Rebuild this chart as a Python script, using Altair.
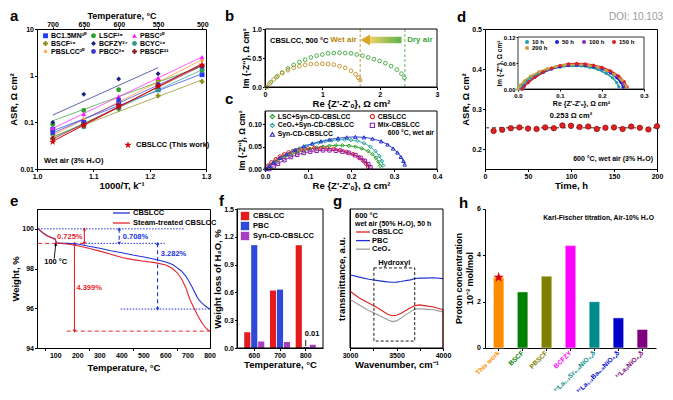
import altair as alt
import pandas as pd

FONT = "Liberation Sans"
STAR = ("M0,-1L0.2245,-0.309L0.9511,-0.309L0.3633,0.118L0.5878,0.809L0,0.382"
        "L-0.5878,0.809L-0.3633,0.118L-0.9511,-0.309L-0.2245,-0.309Z")
RED = "#e3262b"
BLUE = "#2233dd"

# ---------------- data: panel a ----------------
A_INV = [1.028, 1.083, 1.145, 1.215, 1.293]
A_TEMP_LABELS = [700, 650, 600, 550, 500]
A_SERIES = ["BC1.5MN²⁰", "LSCF²⁸", "PBSC²⁰", "BSCF¹⁶", "BCFZY²⁷", "BCYC¹⁶",
            "PBSLCC²⁰", "PBCC²⁶", "PBSCF²³"]
A_COLORS = ["#1f3cff", "#2ca02c", "#ff19ff", "#8c8c1a", "#1a237e", "#2a9d8f",
            "#ff8c1a", "#3a3ad0", "#8b1a1a"]
A_SHAPES = ["square", "circle", "triangle-up", "cross", "diamond", "circle",
            STAR, "circle", "cross"]
A_BC15MN = [0.070, 0.10, 0.25, 0.50, 1.05]
A_LSCF = [0.090, 0.18, 0.50, 0.80, 1.30]
A_PBSC = [0.075, 0.15, 0.36, 0.90, 2.50]
A_BSCF = [0.045, 0.09, 0.19, 0.37, 0.75]
A_BCFZY = [0.10, 0.40, 0.85, 1.10, None]
A_BCYC = [0.055, 0.08, 0.20, 0.50, 1.40]
A_PBSLCC = [0.050, 0.12, 0.28, 0.75, 2.10]
A_PBCC = [0.060, 0.10, 0.30, 0.65, 1.60]
A_PBSCF = [0.045, 0.09, 0.21, 0.60, 1.60]
A_CBSLCC = [0.038, 0.085, 0.23, 0.60, 1.70]
A_DATA = dict(zip(A_SERIES, [A_BC15MN, A_LSCF, A_PBSC, A_BSCF, A_BCFZY, A_BCYC,
                             A_PBSLCC, A_PBCC, A_PBSCF]))

# ---------------- data: panel b ----------------
B_DRY_X = [0.03, 0.10, 0.20, 0.30, 0.40, 0.50, 0.60, 0.70, 0.80, 0.90, 1.00, 1.10, 1.20,
           1.30, 1.40, 1.50, 1.60, 1.70, 1.80, 1.90, 2.00, 2.10, 2.20, 2.30, 2.38, 2.43]
B_DRY_Y = [0.00, 0.08, 0.17, 0.25, 0.32, 0.38, 0.43, 0.47, 0.51, 0.54, 0.56, 0.58, 0.585,
           0.59, 0.585, 0.58, 0.56, 0.54, 0.51, 0.48, 0.45, 0.41, 0.36, 0.30, 0.23, 0.16]
B_WET_X = [0.03, 0.08, 0.15, 0.22, 0.30, 0.40, 0.50, 0.60, 0.70, 0.80, 0.90, 1.00, 1.10,
           1.20, 1.30, 1.40, 1.50, 1.58, 1.63, 1.66]
B_WET_Y = [0.00, 0.06, 0.13, 0.19, 0.24, 0.29, 0.33, 0.36, 0.38, 0.395, 0.40, 0.40, 0.395,
           0.385, 0.36, 0.33, 0.28, 0.22, 0.16, 0.12]

# ---------------- data: panel c ----------------
C_SERIES = ["LSC+Syn-CD-CBSLCC", "CBSLCC", "CeO₂+Syn-CD-CBSLCC", "Mix-CBSLCC", "Syn-CD-CBSLCC"]
C_COLORS = ["#22a022", "#e02020", "#2aa6a0", "#9020b0", "#2030d0"]
C_SHAPES = ["diamond", "circle", "diamond", "square", "triangle-up"]
C_LSC_X = [0.003, 0.01, 0.02, 0.03, 0.045, 0.06, 0.075, 0.09, 0.105, 0.12, 0.135, 0.15,
           0.165, 0.18, 0.195, 0.21, 0.225, 0.24, 0.25, 0.258, 0.264, 0.268]
C_LSC_Y = [0.0, 0.006, 0.013, 0.019, 0.026, 0.032, 0.037, 0.041, 0.045, 0.048, 0.050, 0.052,
           0.053, 0.053, 0.052, 0.050, 0.046, 0.040, 0.033, 0.025, 0.016, 0.007]
C_CEO_X = [0.003, 0.01, 0.02, 0.035, 0.05, 0.065, 0.08, 0.095, 0.11, 0.125, 0.14, 0.155,
           0.17, 0.185, 0.2, 0.215, 0.23, 0.245, 0.257, 0.266, 0.272, 0.275]
C_CEO_Y = [0.0, 0.007, 0.015, 0.024, 0.032, 0.040, 0.046, 0.051, 0.056, 0.059, 0.062, 0.064,
           0.065, 0.066, 0.065, 0.063, 0.058, 0.050, 0.040, 0.029, 0.018, 0.008]
C_SYN_X = [0.003, 0.01, 0.02, 0.035, 0.05, 0.07, 0.09, 0.11, 0.13, 0.15, 0.17, 0.19, 0.21,
           0.23, 0.25, 0.27, 0.285, 0.298, 0.308, 0.316, 0.322, 0.325]
C_SYN_Y = [0.0, 0.007, 0.015, 0.025, 0.033, 0.043, 0.051, 0.057, 0.062, 0.066, 0.069, 0.071,
           0.072, 0.071, 0.068, 0.062, 0.055, 0.046, 0.037, 0.027, 0.018, 0.010]
C_CB_X = [0.002, 0.008, 0.015, 0.025, 0.035, 0.045, 0.055, 0.065, 0.075, 0.085, 0.1, 0.115,
          0.13, 0.145, 0.16, 0.175, 0.19, 0.205, 0.218, 0.228, 0.235, 0.24]
C_CB_Y = [0.0, 0.008, 0.015, 0.022, 0.028, 0.033, 0.037, 0.040, 0.042, 0.044, 0.046, 0.047,
          0.047, 0.046, 0.045, 0.042, 0.038, 0.033, 0.026, 0.019, 0.012, 0.005]
C_MIX_X = [0.01, 0.02, 0.03, 0.045, 0.06, 0.075, 0.09, 0.105, 0.12, 0.135, 0.15, 0.165, 0.18,
           0.195, 0.21, 0.222, 0.232, 0.24, 0.245]
C_MIX_Y = [0.0, 0.006, 0.012, 0.020, 0.027, 0.032, 0.036, 0.039, 0.041, 0.042, 0.042, 0.041,
           0.039, 0.036, 0.031, 0.025, 0.018, 0.011, 0.004]
C_DATA = dict(zip(C_SERIES, [(C_LSC_X, C_LSC_Y), (C_CB_X, C_CB_Y), (C_CEO_X, C_CEO_Y),
                             (C_MIX_X, C_MIX_Y), (C_SYN_X, C_SYN_Y)]))

# ---------------- data: panel d ----------------
D_TIME = [10, 20, 30, 40, 50, 60, 70, 80, 90, 100, 110, 120, 130, 140, 150, 160, 170, 180, 190, 200]
D_ASR = [0.245, 0.248, 0.252, 0.254, 0.251, 0.250, 0.254, 0.252, 0.259, 0.258, 0.255, 0.256,
         0.250, 0.253, 0.254, 0.250, 0.256, 0.253, 0.249, 0.257]
D_MEAN = 0.253
I_SERIES = ["10 h", "50 h", "100 h", "150 h", "200 h"]
I_COLORS = ["#1fa3a0", "#2020d0", "#8030b0", "#e02020", "#c8a040"]
I_10_X = [0.005, 0.01, 0.02, 0.03, 0.05, 0.07, 0.09, 0.11, 0.13, 0.15, 0.17, 0.19, 0.21, 0.225, 0.235, 0.24]
I_10_Y = [0.0, 0.008, 0.018, 0.026, 0.037, 0.045, 0.050, 0.053, 0.054, 0.053, 0.050, 0.045, 0.036, 0.026, 0.015, 0.005]
I_50_X = [0.01, 0.015, 0.025, 0.04, 0.06, 0.08, 0.10, 0.12, 0.14, 0.16, 0.18, 0.20, 0.22, 0.235, 0.245, 0.25]
I_50_Y = [0.0, 0.007, 0.016, 0.027, 0.038, 0.046, 0.051, 0.054, 0.055, 0.054, 0.051, 0.046, 0.037, 0.026, 0.015, 0.004]
I_100_X = [0.01, 0.015, 0.025, 0.04, 0.06, 0.08, 0.10, 0.12, 0.14, 0.16, 0.18, 0.20, 0.22, 0.235, 0.248, 0.255]
I_100_Y = [0.0, 0.007, 0.016, 0.027, 0.039, 0.047, 0.053, 0.056, 0.057, 0.056, 0.053, 0.048, 0.040, 0.030, 0.017, 0.005]
I_150_X = [0.01, 0.015, 0.025, 0.04, 0.06, 0.08, 0.10, 0.12, 0.14, 0.16, 0.18, 0.20, 0.22, 0.24, 0.253, 0.26]
I_150_Y = [0.0, 0.007, 0.016, 0.027, 0.039, 0.048, 0.054, 0.058, 0.059, 0.058, 0.055, 0.050, 0.042, 0.030, 0.017, 0.005]
I_200_X = [0.0, 0.005, 0.015, 0.03, 0.05, 0.07, 0.09, 0.11, 0.13, 0.15, 0.17, 0.19, 0.21, 0.23, 0.248, 0.258]
I_200_Y = [0.0, 0.009, 0.019, 0.030, 0.040, 0.047, 0.052, 0.055, 0.056, 0.056, 0.054, 0.050, 0.043, 0.033, 0.020, 0.006]
I_DATA = dict(zip(I_SERIES, [(I_10_X, I_10_Y), (I_50_X, I_50_Y), (I_100_X, I_100_Y),
                             (I_150_X, I_150_Y), (I_200_X, I_200_Y)]))

# ---------------- data: panel e ----------------
E_SERIES = ["CBSLCC", "Steam-treated CBSLCC"]
E_T = [20, 30, 40, 50, 60, 70, 80, 90, 97, 100, 103, 120, 150, 200, 250, 300, 350, 400, 450,
       500, 550, 600, 630, 650, 670, 690, 700, 710, 720, 730, 740, 750, 760, 770, 780, 790, 800]
E_BLUE = [100.0, 99.92, 99.82, 99.74, 99.67, 99.62, 99.57, 99.53, 99.50, 99.40, 99.30, 99.28,
          99.27, 99.24, 99.12, 99.02, 98.90, 98.80, 98.68, 98.58, 98.47, 98.33, 98.20, 98.05,
          97.88, 97.62, 97.45, 97.25, 97.05, 96.82, 96.60, 96.42, 96.30, 96.20, 96.10, 96.03, 95.96]
E_RED = [100.0, 99.90, 99.80, 99.72, 99.65, 99.60, 99.55, 99.50, 99.47, 99.38, 99.28, 99.26,
         99.24, 99.15, 99.02, 98.88, 98.72, 98.56, 98.45, 98.37, 98.30, 98.18, 98.00, 97.80,
         97.50, 97.05, 96.72, 96.42, 96.18, 95.95, 95.72, 95.52, 95.33, 95.17, 95.02, 94.92, 94.85]
E_XTICKS = [50, 100, 150, 200, 250, 300, 350, 400, 450, 500, 550, 600, 650, 700, 750, 800]
E_XLABELS = [100, 200, 300, 400, 500, 600, 700, 800]
E_HL_X1 = [20, 20, 235, 395, 150]
E_HL_X2 = [680, 235, 595, 800, 800]
E_HL_Y = [100.0, 99.27, 99.27, 95.96, 94.85]
E_HL_COLOR = [BLUE, RED, BLUE, BLUE, RED]
E_HL_STYLE = ["dot", "dash", "dot", "dot", "dash"]
E_AR_X = [185, 230, 388, 562]
E_AR_TOP = [99.27, 100.0, 100.0, 99.27]
E_AR_BOT = [94.85, 99.27, 99.27, 95.96]
E_AR_COLOR = [RED, RED, BLUE, BLUE]
E_AR_STYLE = ["solid", "solid", "dash", "dash"]
E_TXT = ["0.725%", "0.708%", "3.282%", "4.399%", "100 °C"]
E_TXT_X = [106, 404, 577, 194, 48]
E_TXT_Y = [99.57, 99.57, 98.75, 97.0, 98.32]
E_TXT_COLOR = [RED, BLUE, BLUE, RED, "black"]

# ---------------- data: panel f ----------------
F_TEMPS = ["600", "700", "800"]
F_SERIES = ["CBSLCC", "PBC", "Syn-CD-CBSLCC"]
F_COLORS = ["#e41a1c", "#2f4ad8", "#a640c0"]
F_CBSLCC = [0.17, 0.62, 1.11]
F_PBC = [1.11, 0.63, 0.01]
F_SYN = [0.07, 0.065, 0.035]

# ---------------- data: panel g ----------------
G_WN = [3000, 3100, 3200, 3300, 3400, 3450, 3500, 3550, 3600, 3650, 3700, 3750, 3800, 3900, 4000]
G_CBSLCC = [0.408, 0.36, 0.324, 0.288, 0.245, 0.232, 0.236, 0.25, 0.27, 0.29, 0.305, 0.31, 0.305, 0.295, 0.275]
G_PBC = [0.527, 0.51, 0.495, 0.485, 0.476, 0.473, 0.474, 0.478, 0.485, 0.49, 0.50, 0.503, 0.503, 0.505, 0.499]
G_CEO2 = [0.35, 0.31, 0.27, 0.24, 0.205, 0.19, 0.195, 0.215, 0.24, 0.26, 0.28, 0.282, 0.28, 0.275, 0.26]
G_SERIES = ["CBSLCC", "PBC", "CeO₂"]
G_COLORS = ["#e02020", "#2030d0", "#9a9a9a"]

# ---------------- data: panel h ----------------
H_CATS = ["This work", "BSCF", "PBSCF", "BCFZY", "³⁷La₁.₂Sr₀.₈NiO₄₊δ",
          "³⁷La₁.₂Ba₀.₈NiO₄₊δ", "³⁷La₂NiO₄₊δ"]
H_VALUES = [3.05, 2.42, 3.10, 4.42, 2.00, 1.30, 0.80]
H_COLORS = ["#ff8c00", "#008000", "#808000", "#ff00ff", "#008b8b", "#0000cd", "#800080"]
H_YTICKS = [0, 1, 2, 3, 4, 5, 6]
H_YLABELS = [0, 2, 4, 6]


# ---------------- helpers ----------------
def one():
    return pd.DataFrame({"k": [0]})


def ptext(s, x, y, size=7.5, color="black", weight="bold", align="left",
          baseline="middle", angle=None):
    kw = dict(fontSize=size, color=color, fontWeight=weight, align=align,
              baseline=baseline, font=FONT)
    if angle is not None:
        kw["angle"] = angle
    return alt.Chart(pd.DataFrame({"t": [s]})).mark_text(**kw).encode(
        x=alt.value(x), y=alt.value(y), text="t:N")


def dtext(s, x, y, xs, ys, size=7.5, color="black", weight="bold", align="left",
          baseline="middle"):
    return alt.Chart(pd.DataFrame({"t": [s]})).mark_text(
        fontSize=size, color=color, fontWeight=weight, align=align, baseline=baseline,
        font=FONT).encode(x=alt.X(datum=x, scale=xs), y=alt.Y(datum=y, scale=ys), text="t:N")


def letter(ch, x, y):
    return ptext(ch, x, y, size=15, baseline="alphabetic")


def frame(x1, x2, y1, y2):
    return alt.Chart(one()).mark_rect(fillOpacity=0, stroke="black", strokeWidth=1).encode(
        x=alt.value(x1), x2=alt.value(x2), y=alt.value(y1), y2=alt.value(y2))


def key_line(x1, x2, y, color, width=1.3):
    return alt.Chart(one()).mark_rule(color=color, strokeWidth=width).encode(
        x=alt.value(x1), x2=alt.value(x2), y=alt.value(y))


# ================= panel a =================
A_W, A_H = 169, 140
df_a = pd.DataFrame([dict(series=s, inv=xv, asr=v) for s in A_SERIES
                     for xv, v in zip(A_INV, A_DATA[s]) if v is not None])
df_acb = pd.DataFrame({"inv": A_INV, "asr": A_CBSLCC})
A_TOP = [1000.0 / (t + 273.15) for t in A_TEMP_LABELS]

xa = alt.Scale(domain=[1.0, 1.3], nice=False, zero=False)
ya = alt.Scale(type="log", domain=[0.01, 10], nice=False)


def xa_enc():
    return alt.X("inv:Q", scale=xa, axis=alt.Axis(values=[1.0, 1.1, 1.2, 1.3], format=".1f",
                                                  title="1000/T, k⁻¹"))


def ya_enc():
    return alt.Y("asr:Q", scale=ya, axis=alt.Axis(values=[0.01, 0.1, 1, 10], format="~g",
                                                  title="ASR, Ω cm²"))


a_leg = alt.Legend(title=None, orient="none", legendX=5, legendY=3, columns=3,
                   direction="horizontal", symbolSize=24, labelFontSize=7, rowPadding=0,
                   columnPadding=3, labelOffset=2)
a_fit = (alt.Chart(df_a)
         .transform_calculate(lg="log(datum.asr)/LN10")
         .transform_regression("inv", "lg", groupby=["series"])
         .transform_calculate(asr="pow(10, datum.lg)")
         .mark_line(strokeWidth=0.7)
         .encode(x=xa_enc(), y=ya_enc(),
                 stroke=alt.Stroke("series:N", scale=alt.Scale(domain=A_SERIES + ["~"],
                                                               range=A_COLORS + ["#000000"]),
                                   legend=None)))
a_pts = alt.Chart(df_a).mark_point(filled=True, size=24, opacity=1).encode(
    x=xa_enc(), y=ya_enc(),
    color=alt.Color("series:N", scale=alt.Scale(domain=A_SERIES, range=A_COLORS), legend=a_leg),
    shape=alt.Shape("series:N", scale=alt.Scale(domain=A_SERIES, range=A_SHAPES), legend=a_leg))
a_cb_fit = (alt.Chart(df_acb)
            .transform_calculate(lg="log(datum.asr)/LN10")
            .transform_regression("inv", "lg")
            .transform_calculate(asr="pow(10, datum.lg)")
            .mark_line(strokeWidth=1, color="#d40000")
            .encode(x=xa_enc(), y=ya_enc()))
a_cb_pts = alt.Chart(df_acb).mark_point(shape=STAR, filled=True, size=55, color="#d40000",
                                        opacity=1).encode(x=xa_enc(), y=ya_enc())
a_key = alt.Chart(one()).mark_point(shape=STAR, filled=True, size=60, color="#d40000",
                                    opacity=1).encode(x=alt.value(91), y=alt.value(116))
a_main = alt.layer(a_fit, a_pts, a_cb_fit, a_cb_pts, a_key,
                   ptext("CBSLCC (This work)", 99, 116, size=7.5),
                   ptext("Wet air (3% H₂O)", 7, 132, size=7.5),
                   letter("a", -27, -8))
a_top = alt.Chart(pd.DataFrame({"inv": A_TOP})).mark_point(opacity=0).encode(
    x=alt.X("inv:Q", scale=xa, axis=alt.Axis(
        orient="top", values=A_TOP, labelExpr="format(round(1000/datum.value-273.15),'d')",
        title="Temperature, °C", tickSize=2, labelPadding=0, titlePadding=0, titleFontSize=9)))
chart_a = alt.layer(a_main, a_top).resolve_axis(x="independent").properties(width=A_W, height=A_H)

# ================= panel b + c =================
BC_W, BC_H = 221, 140
B_X0, B_X1, B_Y0, B_Y1 = 28, 200, 0, 58
C_Y0, C_Y1 = 82, 140
GREEN = "#3aa53a"
GOLD = "#b8860b"

df_b = pd.concat([pd.DataFrame({"x": B_DRY_X, "y": B_DRY_Y, "cond": "Dry"}),
                  pd.DataFrame({"x": B_WET_X, "y": B_WET_Y, "cond": "Wet"})])
xb = alt.Scale(domain=[0, 3], range=[B_X0, B_X1], nice=False, zero=False)
yb = alt.Scale(domain=[0, 1], range=[B_Y1, B_Y0], nice=False, zero=False)
b_pts = alt.Chart(df_b).mark_point(filled=False, size=14, strokeWidth=0.9, opacity=1).encode(
    x=alt.X("x:Q", scale=xb, axis=alt.Axis(orient="bottom", offset=-(BC_H - B_Y1), values=[0, 1, 2, 3],
                                           format="d", title="Re {Z'-Z'ₒ}, Ω cm²")),
    y=alt.Y("y:Q", scale=yb, axis=alt.Axis(orient="left", offset=-B_X0, values=[0, 0.5, 1],
                                           format=".1f", title="Im {-Z''}, Ω cm²", titleFontSize=8.5)),
    color=alt.Color("cond:N", scale=alt.Scale(domain=["Dry", "Wet"], range=[GREEN, "#c09020"]),
                    legend=None))
b_rule_wet = alt.Chart(one()).mark_rule(strokeDash=[3, 2], strokeWidth=0.8, color=GOLD).encode(
    x=alt.X(datum=1.66, scale=xb), y=alt.value(B_Y0), y2=alt.value(B_Y1))
b_rule_dry = alt.Chart(one()).mark_rule(strokeDash=[3, 2], strokeWidth=0.8, color=GREEN).encode(
    x=alt.X(datum=2.44, scale=xb), y=alt.value(B_Y0), y2=alt.value(B_Y1))
b_arrow = alt.Chart(one()).mark_rect(color=alt.Gradient(
    gradient="linear", x1=0, x2=1, y1=0, y2=0,
    stops=[alt.GradientStop(color="#f3d26a", offset=0),
           alt.GradientStop(color="#5db548", offset=1)])).encode(
    x=alt.X(datum=1.80, scale=xb), x2=alt.datum(2.38),
    y=alt.Y(datum=0.755, scale=yb), y2=alt.datum(0.865))
b_head = alt.Chart(one()).mark_point(shape="triangle-left", filled=True, size=120,
                                     color="#dba628", opacity=1).encode(
    x=alt.X(datum=1.75, scale=xb), y=alt.Y(datum=0.81, scale=yb))
b_layer = alt.layer(b_pts, b_rule_wet, b_rule_dry, b_arrow, b_head,
                    dtext("Wet air", 1.60, 0.81, xb, yb, color=GOLD, align="right", size=8),
                    dtext("Dry air", 2.48, 0.81, xb, yb, color=GREEN, size=8),
                    ptext("CBSLCC, 500 °C", B_X0 + 5, 12, size=7.5))

c_rows = []
for s in C_SERIES:
    xs, ys = C_DATA[s]
    for i, (xv, yv) in enumerate(zip(xs, ys)):
        c_rows.append(dict(series=s, x=xv, y=yv, i=i))
df_c = pd.DataFrame(c_rows)
xc = alt.Scale(domain=[0, 0.4], range=[B_X0, B_X1], nice=False, zero=False)
yc = alt.Scale(domain=[0, 0.13], range=[C_Y1, C_Y0], nice=False, zero=False)


def xc_enc():
    return alt.X("x:Q", scale=xc, axis=alt.Axis(orient="bottom", values=[0, 0.1, 0.2, 0.3, 0.4],
                                                format=".1f", title="Re {Z'-Z'ₒ}, Ω cm²"))


def yc_enc():
    return alt.Y("y:Q", scale=yc, axis=alt.Axis(orient="left", offset=-B_X0, values=[0, 0.05, 0.1],
                                                format=".2f", title="Im {-Z''}, Ω cm²",
                                                titleFontSize=8.5))


c_leg = alt.Legend(title=None, orient="none", legendX=B_X0 + 4, legendY=C_Y0 + 2, columns=2,
                   direction="horizontal", symbolSize=18, labelFontSize=6.8, rowPadding=0,
                   columnPadding=14, labelOffset=2, symbolStrokeWidth=1.1)
c_lines = alt.Chart(df_c).mark_line(strokeWidth=0.9).encode(
    x=xc_enc(), y=yc_enc(), order="i:Q",
    stroke=alt.Stroke("series:N", scale=alt.Scale(domain=C_SERIES + ["~"],
                                                  range=C_COLORS + ["#000000"]), legend=None))
c_pts = alt.Chart(df_c).mark_point(filled=False, size=13, strokeWidth=1, opacity=1).encode(
    x=xc_enc(), y=yc_enc(),
    color=alt.Color("series:N", scale=alt.Scale(domain=C_SERIES, range=C_COLORS), legend=c_leg),
    shape=alt.Shape("series:N", scale=alt.Scale(domain=C_SERIES, range=C_SHAPES), legend=c_leg))
c_layer = alt.layer(c_lines, c_pts, ptext("600 °C, wet air", B_X1 - 3, C_Y0 + 22, size=6.8,
                                          align="right"))

chart_bc = alt.layer(
    b_layer, c_layer,
    frame(B_X0, B_X1, B_Y0, B_Y1), frame(B_X0, B_X1, C_Y0, C_Y1),
    letter("b", -12, -8), letter("c", -12, C_Y0 - 7)
).resolve_scale(x="independent", y="independent", color="independent", shape="independent",
                stroke="independent"
                ).properties(width=BC_W, height=BC_H, view=alt.ViewBackground(stroke="transparent"))

# ================= panel d =================
D_W, D_H = 172, 140
IX0, IX1, IY0, IY1 = 33, 159, 8, 60
df_d = pd.DataFrame({"t": D_TIME, "asr": D_ASR})
xd = alt.Scale(domain=[0, 200], nice=False, zero=False)
yd = alt.Scale(domain=[0.15, 0.5], nice=False, zero=False)
d_pts = alt.Chart(df_d).mark_point(filled=True, size=30, color="#e02020", stroke="#7a0000",
                                   strokeWidth=0.6, opacity=1).encode(
    x=alt.X("t:Q", scale=xd, axis=alt.Axis(values=[0, 50, 100, 150, 200], format="d",
                                           title="Time, h")),
    y=alt.Y("asr:Q", scale=yd, axis=alt.Axis(values=[0.2, 0.3, 0.4, 0.5], format=".1f",
                                             title="ASR, Ω cm²")))
d_mean = alt.Chart(one()).mark_rule(strokeDash=[4, 3], color="black", strokeWidth=0.8).encode(
    y=alt.Y(datum=D_MEAN, scale=yd))
d_main = alt.layer(d_mean, d_pts,
                   dtext("0.253 Ω cm²", 100, 0.283, xd, yd, align="center", size=7.5),
                   ptext("600 °C, wet air (3% H₂O)", D_W - 4, D_H - 10, size=7, align="right"),
                   letter("d", -28, -7),
                   ptext("DOI: 10.103", 178, -12, size=10, color="#9a9a9a", weight="normal",
                         align="right"))
i_rows = []
for s in I_SERIES:
    xs, ys = I_DATA[s]
    for i, (xv, yv) in enumerate(zip(xs, ys)):
        i_rows.append(dict(series=s, x=xv, y=yv, i=i))
df_i = pd.DataFrame(i_rows)
xi = alt.Scale(domain=[0, 0.3], range=[IX0, IX1], nice=False, zero=False)
yi = alt.Scale(domain=[0, 0.12], range=[IY1, IY0], nice=False, zero=False)


def xi_enc():
    return alt.X("x:Q", scale=xi, axis=alt.Axis(orient="bottom", offset=-(D_H - IY1),
                                                values=[0, 0.1, 0.2, 0.3], format=".1f",
                                                title="Re {Z'-Z'ₒ}, Ω cm²", labelFontSize=6,
                                                titleFontSize=7, tickSize=2, titlePadding=1))


def yi_enc():
    return alt.Y("y:Q", scale=yi, axis=alt.Axis(orient="left", offset=-IX0,
                                                values=[0, 0.06, 0.12], format=".2f",
                                                title="Im {-Z''}, Ω cm²", labelFontSize=6,
                                                titleFontSize=6.5, tickSize=2, titlePadding=1))


i_leg = alt.Legend(title=None, orient="none", legendX=IX0 + 6, legendY=IY0 + 2, columns=4,
                   direction="horizontal", symbolSize=16, labelFontSize=6, rowPadding=0,
                   columnPadding=6, labelOffset=2, symbolType="circle")
i_bg = alt.Chart(one()).mark_rect(fill="white", stroke="black", strokeWidth=0.8).encode(
    x=alt.value(IX0), x2=alt.value(IX1), y=alt.value(IY0), y2=alt.value(IY1))
i_lines = alt.Chart(df_i).mark_line(strokeWidth=1.6).encode(
    x=xi_enc(), y=yi_enc(), order="i:Q",
    stroke=alt.Stroke("series:N", scale=alt.Scale(domain=I_SERIES + ["~"],
                                                  range=I_COLORS + ["#000000"]), legend=None))
i_pts = alt.Chart(df_i).mark_point(filled=True, size=10, opacity=1).encode(
    x=xi_enc(), y=yi_enc(),
    color=alt.Color("series:N", scale=alt.Scale(domain=I_SERIES, range=I_COLORS), legend=i_leg))
d_inset = alt.layer(i_bg, i_lines, i_pts)
chart_d = alt.layer(d_main, d_inset).resolve_scale(
    x="independent", y="independent").properties(width=D_W, height=D_H)

# ================= panel e =================
E_W, E_H = 173, 139
df_e = pd.concat([pd.DataFrame({"T": E_T, "w": E_BLUE, "series": E_SERIES[0]}),
                  pd.DataFrame({"T": E_T, "w": E_RED, "series": E_SERIES[1]})])
xe = alt.Scale(domain=[15, 800], nice=False, zero=False)
ye = alt.Scale(domain=[94, 101], nice=False, zero=False)
dash_scale = alt.Scale(domain=["dot", "dash", "solid"], range=[[1.5, 1.5], [4, 3], [1, 0]])


def xe_enc(field="T"):
    return alt.X(f"{field}:Q", scale=xe, axis=alt.Axis(values=E_XTICKS, labels=False,
                                                     title="Temperature, °C", titlePadding=11))


def ye_enc(field="w"):
    return alt.Y(f"{field}:Q", scale=ye, axis=alt.Axis(values=list(range(94, 102)), format="d",
                                                     title="Weight, %"))


e_lines = alt.Chart(df_e).mark_line(strokeWidth=1.1).encode(
    x=xe_enc(), y=ye_enc(),
    color=alt.Color("series:N", scale=alt.Scale(domain=E_SERIES, range=[BLUE, RED]), legend=None))
df_ehl = pd.DataFrame({"x1": E_HL_X1, "x2": E_HL_X2, "y": E_HL_Y, "c": E_HL_COLOR, "s": E_HL_STYLE})
e_hl = alt.Chart(df_ehl).mark_rule(strokeWidth=1).encode(
    x=xe_enc("x1"), x2="x2:Q", y=ye_enc("y"),
    stroke=alt.Stroke("c:N", scale=None),
    strokeDash=alt.StrokeDash("s:N", scale=dash_scale, legend=None))
df_ear = pd.DataFrame({"x": E_AR_X, "top": E_AR_TOP, "bot": E_AR_BOT, "c": E_AR_COLOR, "s": E_AR_STYLE})
e_ar = alt.Chart(df_ear).mark_rule(strokeWidth=1.1).encode(
    x=xe_enc("x"), y=ye_enc("top"), y2="bot:Q",
    stroke=alt.Stroke("c:N", scale=None),
    strokeDash=alt.StrokeDash("s:N", scale=dash_scale, legend=None))
e_up = alt.Chart(df_ear).mark_point(shape="triangle-up", filled=True, size=14, opacity=1,
                                    strokeWidth=0).encode(
    x=xe_enc("x"), y=ye_enc("top"), fill=alt.Fill("c:N", scale=None))
e_dn = alt.Chart(df_ear).mark_point(shape="triangle-down", filled=True, size=14, opacity=1,
                                    strokeWidth=0).encode(
    x=xe_enc("x"), y=ye_enc("bot"), fill=alt.Fill("c:N", scale=None))
df_et = pd.DataFrame({"t": E_TXT, "x": E_TXT_X, "y": E_TXT_Y, "c": E_TXT_COLOR})
e_txt = alt.Chart(df_et).mark_text(align="left", baseline="middle", fontSize=7.5,
                                   fontWeight="bold", font=FONT).encode(
    x=xe_enc("x"), y=ye_enc("y"), text="t:N", fill=alt.Fill("c:N", scale=None))
e_pointer = alt.Chart(one()).mark_rule(color="black", strokeWidth=0.9).encode(
    x=alt.X(datum=93, scale=xe), x2=alt.datum(100), y=alt.Y(datum=98.5, scale=ye),
    y2=alt.datum(99.2))
e_pointer_head = alt.Chart(one()).mark_point(shape="triangle-up", filled=True, size=12,
                                             color="black", opacity=1).encode(
    x=alt.X(datum=100, scale=xe), y=alt.Y(datum=99.22, scale=ye))
e_ticklabels = alt.Chart(pd.DataFrame({"v": E_XLABELS})).mark_text(
    align="center", baseline="top", fontSize=7, fontWeight="bold", font=FONT, color="black").encode(
    x=alt.X("v:Q", scale=xe), y=alt.value(E_H + 3.5), text=alt.Text("v:Q", format="d"))
chart_e = alt.layer(e_hl, e_ar, e_up, e_dn, e_lines, e_txt, e_pointer, e_pointer_head,
                    e_ticklabels,
                    key_line(76, 93, 4, BLUE), key_line(76, 93, 14, RED),
                    ptext(E_SERIES[0], 96, 4, size=7.5), ptext(E_SERIES[1], 96, 14, size=7.5),
                    letter("e", -27, -3)).properties(width=E_W, height=E_H)

# ================= panel f + g =================
FG_W, FG_H = 221, 139
F_X0, F_X1 = 0, 86
G_X0, G_X1 = 113, 206
df_f = pd.DataFrame([dict(temp=t, series=s, v=v)
                     for s, vals in zip(F_SERIES, [F_CBSLCC, F_PBC, F_SYN])
                     for t, v in zip(F_TEMPS, vals)])
xf = alt.Scale(domain=F_TEMPS, range=[F_X0, F_X1], paddingInner=0.22, paddingOuter=0.28)
yf = alt.Scale(domain=[0, 1.5], nice=False)


def xf_enc():
    return alt.X("temp:N", scale=xf, axis=alt.Axis(orient="bottom", labelAngle=0,
                                                   title="Temperature, °C"))


def yf_enc(field="v"):
    return alt.Y(f"{field}:Q", scale=yf, axis=alt.Axis(values=[0, 0.3, 0.6, 0.9, 1.2, 1.5],
                                                     format=".1f", title="Weight loss of H₂O, %"))


f_bars = alt.Chart(df_f).mark_bar(strokeWidth=0.6, opacity=1).encode(
    x=xf_enc(), y=yf_enc(),
    xOffset=alt.XOffset("series:N", scale=alt.Scale(domain=F_SERIES, paddingInner=0.12)),
    color=alt.Color("series:N", scale=alt.Scale(domain=F_SERIES, range=F_COLORS),
                    legend=alt.Legend(title=None, orient="none", legendX=F_X0 + 3, legendY=2,
                                      symbolType="square", symbolSize=70, labelFontSize=7.5,
                                      rowPadding=0, labelOffset=3)))
df_fnote = pd.DataFrame({"temp": ["800"], "series": ["PBC"], "ty": [0.15], "a1": [0.085],
                         "a2": [0.02], "t": ["0.01"]})
f_note = alt.Chart(df_fnote).mark_text(align="left", baseline="middle", fontSize=7.5,
                                       fontWeight="bold", font=FONT, dx=-1).encode(
    x=xf_enc(), xOffset=alt.XOffset("series:N", scale=alt.Scale(domain=F_SERIES, paddingInner=0.12)),
    y=yf_enc("ty"), text="t:N")
f_arr = alt.Chart(df_fnote).mark_rule(color="black", strokeWidth=0.9).encode(
    x=xf_enc(), xOffset=alt.XOffset("series:N", scale=alt.Scale(domain=F_SERIES, paddingInner=0.12)),
    y=yf_enc("a1"), y2="a2:Q")
f_layer = alt.layer(f_bars, f_arr, f_note)

g_rows = []
for s, vals in zip(G_SERIES, [G_CBSLCC, G_PBC, G_CEO2]):
    for xv, yv in zip(G_WN, vals):
        g_rows.append(dict(series=s, wn=xv, tr=yv))
df_g = pd.DataFrame(g_rows)
xg = alt.Scale(domain=[3000, 4000], range=[G_X0, G_X1], nice=False, zero=False)
yg = alt.Scale(domain=[0, 1], nice=False, zero=False)
g_lines = alt.Chart(df_g).mark_line(strokeWidth=1.1).encode(
    x=alt.X("wn:Q", scale=xg, axis=alt.Axis(
        orient="bottom", values=[3000, 3250, 3500, 3750, 4000],
        labelExpr="datum.value % 500 == 0 ? format(datum.value, 'd') : ''", format="d",
        title="Wavenumber, cm⁻¹")),
    y=alt.Y("tr:Q", scale=yg, axis=alt.Axis(orient="left", offset=-G_X0, labels=False, ticks=False,
                                            title="transmittance, a.u.", titlePadding=4)),
    color=alt.Color("series:N", scale=alt.Scale(domain=G_SERIES, range=G_COLORS), legend=None))
g_drop = alt.Chart(one()).mark_rule(color="#e02020", strokeWidth=1.1).encode(
    x=alt.X(datum=4000, scale=xg), y=alt.Y(datum=G_CBSLCC[-1], scale=yg), y2=alt.datum(0))
g_box = alt.Chart(one()).mark_rect(fillOpacity=0, stroke="black", strokeDash=[3, 2],
                                   strokeWidth=0.9).encode(
    x=alt.X(datum=3257, scale=xg), x2=alt.datum(3696),
    y=alt.Y(datum=0.05, scale=yg), y2=alt.datum(0.576))
g_keys = []
for k, (s, col) in enumerate(zip(G_SERIES, G_COLORS)):
    yk = 23 + 8.6 * k
    g_keys.append(key_line(G_X0 + 6, G_X0 + 20, yk, col))
    g_keys.append(ptext(s, G_X0 + 22, yk, size=7.5))
g_layer = alt.layer(g_lines, g_drop, g_box,
                    dtext("Hydroxyl", 3475, 0.61, xg, yg, align="center", size=7.5),
                    ptext("600 °C", G_X0 + 5, 7, size=7.5),
                    ptext("wet air (50% H₂O), 50 h", G_X0 + 5, 15, size=7),
                    *g_keys)

chart_fg = alt.layer(
    f_layer, g_layer,
    frame(F_X0, F_X1, 0, FG_H), frame(G_X0, G_X1, 0, FG_H),
    letter("f", -18, -3), letter("g", G_X0 - 17, -3)
).resolve_scale(x="independent", y="independent", color="independent"
                ).properties(width=FG_W, height=FG_H, view=alt.ViewBackground(stroke="transparent"))

# ================= panel h =================
H_W, H_H = 171, 139
df_h = pd.DataFrame({"cat": H_CATS, "v": H_VALUES})
xh = alt.Scale(domain=H_CATS, paddingInner=0.56, paddingOuter=0.35)
yh = alt.Scale(domain=[0, 6], nice=False, zero=False)


def xh_enc():
    return alt.X("cat:N", scale=xh, sort=H_CATS, axis=alt.Axis(labels=False, title=None))


h_color = alt.Color("cat:N", scale=alt.Scale(domain=H_CATS, range=H_COLORS), legend=None)
h_bars = alt.Chart(df_h).mark_bar(opacity=1, stroke="white", strokeWidth=0.5).encode(
    x=xh_enc(),
    y=alt.Y("v:Q", scale=yh, axis=alt.Axis(values=H_YTICKS, labels=False, title=None)),
    color=h_color)
h_star = alt.Chart(df_h.iloc[[0]]).mark_point(shape=STAR, filled=True, size=120, color="#d40000",
                                               opacity=1).encode(x=xh_enc(), y=alt.Y("v:Q", scale=yh))
h_labels = alt.Chart(df_h).mark_text(angle=315, align="right", baseline="middle", fontSize=6.6,
                                     fontWeight="bold", font=FONT).encode(
    x=xh_enc(), y=alt.value(H_H + 4), text="cat:N", color=h_color)
h_ticklabels = alt.Chart(pd.DataFrame({"v": H_YLABELS})).mark_text(
    align="right", baseline="middle", fontSize=7, fontWeight="bold", font=FONT, color="black").encode(
    x=alt.value(-4), y=alt.Y("v:Q", scale=yh), text=alt.Text("v:Q", format="d"))
chart_h = alt.layer(h_bars, h_star, h_labels, h_ticklabels,
                    ptext("Proton concentration", -26, H_H / 2, size=9, align="center", angle=270),
                    ptext("10⁻³ mol/mol", -15, H_H / 2, size=9, align="center", angle=270),
                    ptext("Karl-Fischer titration, Air-10% H₂O", H_W - 2, 9, size=6.8,
                          align="right"),
                    letter("h", -26, -1)
                    ).properties(width=H_W, height=H_H, view=alt.ViewBackground(stroke="transparent"))

# ================= assemble =================
chart = (alt.concat(chart_a, chart_bc, chart_d, chart_e, chart_fg, chart_h, columns=3,
                    spacing={"row": 40, "column": 27}, bounds="flush")
         .resolve_scale(color="independent", shape="independent", stroke="independent",
                        fill="independent", strokeDash="independent")
         .properties(padding={"left": 0, "top": 0, "right": 0, "bottom": 0})
         .configure(font=FONT)
         .configure_axis(labelFont=FONT, titleFont=FONT, labelFontWeight="bold",
                         titleFontWeight="bold", labelFontSize=7, titleFontSize=9.5,
                         labelColor="black", titleColor="black", domainColor="black",
                         tickColor="black", tickSize=2.5, labelPadding=1, titlePadding=1,
                         grid=False, labelFlush=False, labelOverlap=False)
         .configure_legend(labelFont=FONT, labelFontWeight="bold", labelColor="black",
                           padding=0, titlePadding=0)
         .configure_view(stroke="black", strokeWidth=1))

chart.save("out.html", embed_options={"renderer": "svg", "actions": False})
